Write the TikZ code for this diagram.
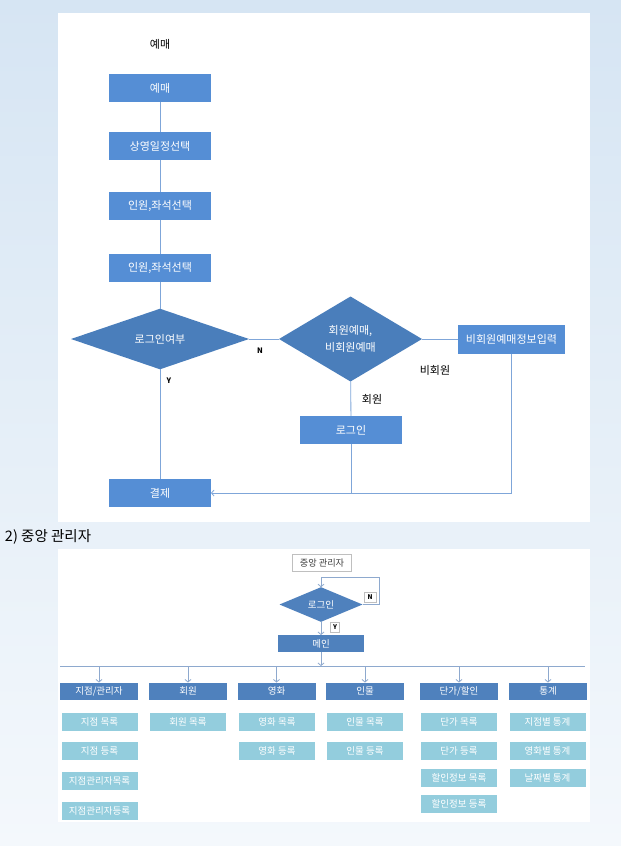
\documentclass[tikz,border=0pt]{standalone}
\usepackage{fontspec}
\setmainfont{Noto Sans CJK KR}
\usetikzlibrary{shapes.geometric, arrows.meta}
\definecolor{bgtop}{HTML}{D6E5F3}
\definecolor{bgmid}{HTML}{E8F0F6}
\definecolor{bgbot}{HTML}{F4F8FC}
\definecolor{boxblue}{HTML}{558ED5}
\definecolor{diablue}{HTML}{4A7EBB}
\definecolor{linkblue}{HTML}{7FA6D9}
\definecolor{catblue}{HTML}{4F81BD}
\definecolor{subteal}{HTML}{93CDDD}
\definecolor{busblue}{HTML}{8EA9CE}

\begin{document}
\begin{tikzpicture}[x=1pt, y=-1pt, font=\fontsize{11pt}{13pt}\selectfont, every node/.style={inner sep=0pt, outer sep=0pt}, line join=miter,
	flowbox/.style={fill=boxblue, text=white, minimum width=102pt, minimum height=28pt},
	flowdia/.style={diamond, fill=diablue, text=white, align=center},
	link/.style={draw=linkblue, line width=0.8pt},
	link2/.style={draw=busblue, line width=0.8pt},
	barb/.style={-{Straight Barb[length=2.5pt, width=6pt]}},
	catbox/.style={fill=catblue, text=white, minimum width=78pt, minimum height=17pt, font=\fontsize{9.5pt}{11pt}\selectfont},
	subbox/.style={fill=subteal, text=white, minimum width=76pt, minimum height=18pt, font=\fontsize{9.5pt}{11pt}\selectfont},
	tag/.style={draw=black!25, fill=white, minimum width=12pt, minimum height=10pt, font=\fontsize{6.5pt}{8pt}\selectfont\bfseries}]
	
	% 배경
	\useasboundingbox (0,0) rectangle (621,846);
	\shade[top color=bgtop, middle color=bgmid, bottom color=bgbot] (0,0) rectangle (621,846);
	\fill[white] (58,13) rectangle (590,522);
	\fill[white] (58,549) rectangle (590,822);
	
	% 예매
	\node (title) at (160,44) {예매};
	\node[flowbox] (ye) at (160,88) {예매};
	\node[flowbox] (sched) at (160,146) {상영일정선택};
	\node[flowbox] (seat1) at (160,206) {인원,좌석선택};
	\node[flowbox] (seat2) at (160,268) {인원,좌석선택};
	\node[flowdia, minimum width=178pt, minimum height=46pt] (loginq) at (160,339) {로그인여부};
	\node[flowdia, minimum width=143pt, minimum height=85pt, font=\fontsize{11pt}{16.5pt}\selectfont] (memq) at (350.5,339) {회원예매,\\비회원예매};
	\node[flowbox, minimum width=107pt, minimum height=29pt] (guest) at (511.5,339) {비회원예매정보입력};
	\node[flowbox] (login) at (351,430) {로그인};
	\node[flowbox] (pay) at (160,493) {결제};
	
	\node[font=\fontsize{7.5pt}{9pt}\selectfont\bfseries] (nlabel) at (260,351) {N};
	\node[font=\fontsize{7.5pt}{9pt}\selectfont\bfseries] (ylabel) at (169,381) {Y};
	\node (guestlabel) at (435,370) {비회원};
	\node (memlabel) at (372,399) {회원};
	
	\draw[link] (ye) -- (sched);
	\draw[link] (sched) -- (seat1);
	\draw[link] (seat1) -- (seat2);
	\draw[link] (seat2) -- (loginq);
	\draw[link] (loginq) -- (memq);
	\draw[link] (memq) -- (guest);
	\draw[link] (memq) -- (login);
	\draw[link] (loginq) -- (pay);
	\draw[link] (login.south) -- (login.south |- pay.east);
	\draw[link, barb] (guest.south) |- (pay.east);
	
	% 중앙 관리자
	\node[anchor=west, font=\fontsize{14.5pt}{17pt}\selectfont] (heading) at (5,537) {2) 중앙 관리자};
	\node[draw=black!25, fill=white, text=black!75, minimum width=59pt, minimum height=17pt, font=\fontsize{9.2pt}{11pt}\selectfont] (admin) at (322,563) {중앙 관리자};
	\node[diamond, fill=catblue, text=white, minimum width=83pt, minimum height=31pt, font=\fontsize{9.5pt}{11pt}\selectfont] (alogin) at (321,604.5) {로그인};
	\node[catbox, minimum width=86pt] (mainmenu) at (321,643.5) {메인};
	\node[tag] (ntag) at (370,597) {N};
	\node[tag, minimum width=9pt] (ytag) at (335,627) {Y};
	
	\coordinate (loopc) at (379,577);
	\coordinate (busL) at (60,666);
	\coordinate (busR) at (585,666);
	
	\draw[link2, barb] (alogin.east) -| (loopc) -| (alogin.north);
	\draw[link2, barb] (alogin) -- (mainmenu);
	\draw[link2, barb] (mainmenu) -- (mainmenu |- busL);
	\draw[link2] (busL) -- (busR);
	
	\node[catbox] (branch) at (99,691) {지점/관리자};
	\node[catbox] (member) at (188,691) {회원};
	\node[catbox] (movie) at (276.5,691) {영화};
	\node[catbox] (person) at (365,691) {인물};
	\node[catbox] (price) at (459,691) {단가/할인};
	\node[catbox] (stats) at (548,691) {통계};
	
	\draw[link2, barb] (branch |- busL) -- (branch);
	\draw[link2, barb] (member |- busL) -- (member);
	\draw[link2, barb] (movie |- busL) -- (movie);
	\draw[link2, barb] (person |- busL) -- (person);
	\draw[link2, barb] (price |- busL) -- (price);
	\draw[link2, barb] (stats |- busL) -- (stats);
	
	\node[subbox] (branchlist) at (99.5,722) {지점 목록};
	\node[subbox] (branchadd) at (99.5,751) {지점 등록};
	\node[subbox] (mgrlist) at (99.5,781) {지점관리자목록};
	\node[subbox] (mgradd) at (99.5,810.5) {지점관리자등록};
	
	\node[subbox] (memberlist) at (188,722) {회원 목록};
	
	\node[subbox] (movielist) at (277,722) {영화 목록};
	\node[subbox] (movieadd) at (277,751) {영화 등록};
	
	\node[subbox] (personlist) at (365,722) {인물 목록};
	\node[subbox] (personadd) at (365,751) {인물 등록};
	
	\node[subbox] (pricelist) at (459,722) {단가 목록};
	\node[subbox] (priceadd) at (459,751) {단가 등록};
	\node[subbox] (salelist) at (459,777.5) {할인정보 목록};
	\node[subbox] (saleadd) at (459,804) {할인정보 등록};
	
	\node[subbox] (statbranch) at (547.5,722) {지점별 통계};
	\node[subbox] (statmovie) at (547.5,751) {영화별 통계};
	\node[subbox] (statdate) at (547.5,777.5) {날짜별 통계};
	
\end{tikzpicture}
\end{document}
